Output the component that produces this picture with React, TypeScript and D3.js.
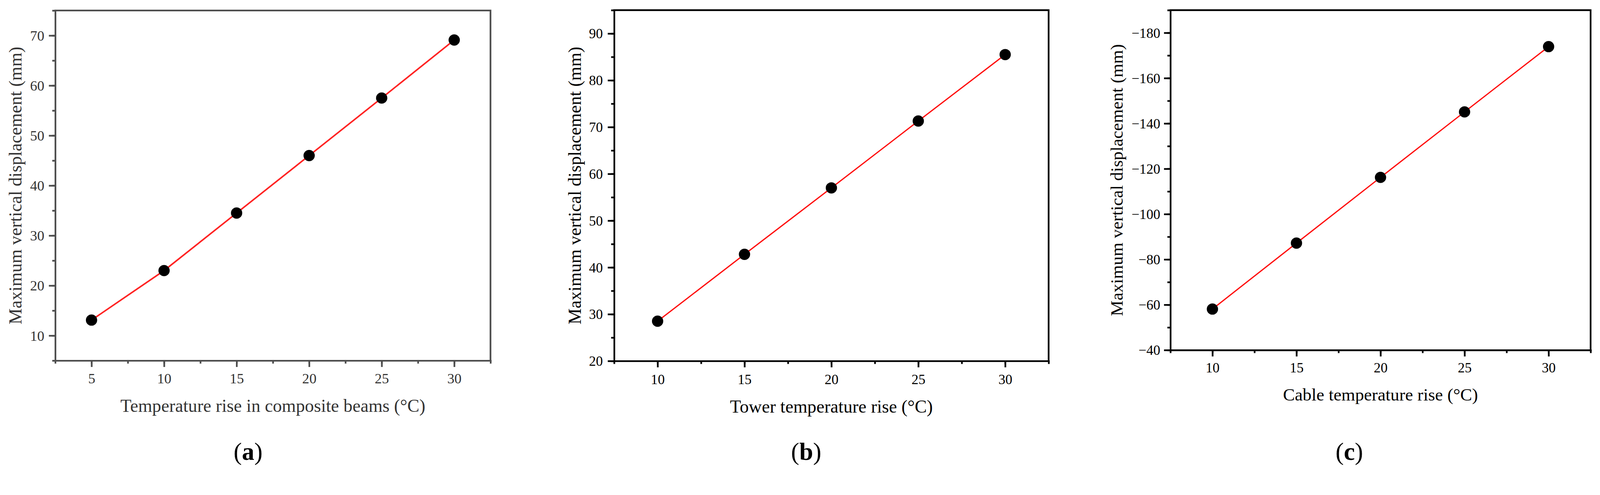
import React, { useRef, useEffect } from "react"
import * as d3 from "d3"

// panel (a): composite beams
const tempA = [5, 10, 15, 20, 25, 30]
const dispA = [13.1, 23.0, 34.5, 46.0, 57.5, 69.1]
const xTicksA = [5, 10, 15, 20, 25, 30]
const yTicksA = [10, 20, 30, 40, 50, 60, 70]

// panel (b): tower
const tempB = [10, 15, 20, 25, 30]
const dispB = [28.5, 42.8, 57.0, 71.3, 85.5]
const xTicksB = [10, 15, 20, 25, 30]
const yTicksB = [20, 30, 40, 50, 60, 70, 80, 90]

// panel (c): cable
const tempC = [10, 15, 20, 25, 30]
const dispC = [-58.1, -87.2, -116.2, -145.1, -173.9]
const xTicksC = [10, 15, 20, 25, 30]
const yTicksC = [-40, -60, -80, -100, -120, -140, -160, -180]

type PanelCfg = {
  left: number
  top: number
  right: number
  bottom: number
  xDomain: [number, number]
  yDomain: [number, number]
  xTicks: number[]
  yTicks: number[]
  xMinorStep: number
  yMinorStep: number
  xs: number[]
  ys: number[]
  xTitle: string
  tag: string
  tagX: number
  axisColor: string
  textColor: string
  lineColor: string
  axisWidth: number
  lineWidth: number
  tickFont: number
  titleFont: number
  xPad: number
  yPad: number
  xTitleOffset: number
  yTitleX: number
}

const W = 4257
const H = 1268
const FONT = "'Liberation Serif', 'Times New Roman', serif"

const panels: PanelCfg[] = [
  {
    left: 147, top: 28, right: 1305, bottom: 960,
    xDomain: [2.5, 32.5], yDomain: [5, 75],
    xTicks: xTicksA, yTicks: yTicksA, xMinorStep: 2.5, yMinorStep: 5,
    xs: tempA, ys: dispA,
    xTitle: "Temperature rise in composite beams (°C)",
    tag: "a", tagX: 660,
    axisColor: "#4d4d4d", textColor: "#333", lineColor: "#f22",
    axisWidth: 4.5, lineWidth: 4, tickFont: 38, titleFont: 48,
    xPad: 17, yPad: 12, xTitleOffset: 136, yTitleX: 57,
  },
  {
    left: 1634, top: 27, right: 2790, bottom: 961,
    xDomain: [7.5, 32.5], yDomain: [20, 95],
    xTicks: xTicksB, yTicks: yTicksB, xMinorStep: 2.5, yMinorStep: 5,
    xs: tempB, ys: dispB,
    xTitle: "Tower temperature rise (°C)",
    tag: "b", tagX: 2145,
    axisColor: "#000", textColor: "#000", lineColor: "#f00",
    axisWidth: 4.5, lineWidth: 3.2, tickFont: 37, titleFont: 48,
    xPad: 18, yPad: 13, xTitleOffset: 138, yTitleX: 1545,
  },
  {
    left: 3114, top: 27, right: 4232, bottom: 932,
    xDomain: [7.5, 32.5], yDomain: [-40, -190],
    xTicks: xTicksC, yTicks: yTicksC, xMinorStep: 2.5, yMinorStep: 10,
    xs: tempC, ys: dispC,
    xTitle: "Cable temperature rise (°C)",
    tag: "c", tagX: 3590,
    axisColor: "#000", textColor: "#000", lineColor: "#f00",
    axisWidth: 4.5, lineWidth: 3.2, tickFont: 37, titleFont: 47,
    xPad: 16, yPad: 10, xTitleOffset: 134, yTitleX: 2987,
  },
]

const minorValues = (d: [number, number], step: number) => {
  const lo = Math.min(d[0], d[1])
  const hi = Math.max(d[0], d[1])
  return d3.range(lo, hi + step / 2, step)
}

const Figure: React.FC = () => {
  const svgRef = useRef<SVGSVGElement | null>(null)

  useEffect(() => {
    if (!svgRef.current) return
    const svg = d3.select(svgRef.current)
    svg.selectAll("*").remove()

    panels.forEach((p) => {
      const x = d3.scaleLinear().domain(p.xDomain).range([p.left, p.right])
      const y = d3.scaleLinear().domain(p.yDomain).range([p.bottom, p.top])
      const g = svg.append("g").attr("font-family", FONT)

      // frame (top and right sides)
      g.append("path")
        .attr("d", `M${p.left},${p.top}H${p.right}V${p.bottom}`)
        .attr("fill", "none")
        .attr("stroke", p.axisColor)
        .attr("stroke-width", p.axisWidth)
        .attr("stroke-linecap", "square")

      // minor ticks
      g.append("g")
        .attr("transform", `translate(0,${p.bottom})`)
        .call(d3.axisBottom(x).tickValues(minorValues(p.xDomain, p.xMinorStep)).tickSize(8).tickSizeOuter(0).tickFormat(() => ""))
        .call((a) => a.select(".domain").remove())
        .attr("color", p.axisColor)
        .selectAll("line").attr("stroke-width", p.axisWidth)
      g.append("g")
        .attr("transform", `translate(${p.left},0)`)
        .call(d3.axisLeft(y).tickValues(minorValues(p.yDomain, p.yMinorStep)).tickSize(8).tickSizeOuter(0).tickFormat(() => ""))
        .call((a) => a.select(".domain").remove())
        .attr("color", p.axisColor)
        .selectAll("line").attr("stroke-width", p.axisWidth)

      // major axes
      const xa = g.append("g")
        .attr("transform", `translate(0,${p.bottom})`)
        .call(d3.axisBottom(x).tickValues(p.xTicks).tickSize(17).tickSizeOuter(0).tickPadding(p.xPad).tickFormat(d3.format("d")))
        .attr("color", p.axisColor)
        .attr("font-size", p.tickFont)
        .attr("font-family", FONT)
      xa.selectAll("line, path").attr("stroke-width", p.axisWidth)
      xa.select(".domain").attr("stroke-linecap", "square")
      xa.selectAll("text").attr("fill", p.textColor)

      const ya = g.append("g")
        .attr("transform", `translate(${p.left},0)`)
        .call(d3.axisLeft(y).tickValues(p.yTicks).tickSize(17).tickSizeOuter(0).tickPadding(p.yPad).tickFormat(d3.format("d")))
        .attr("color", p.axisColor)
        .attr("font-size", p.tickFont)
        .attr("font-family", FONT)
      ya.selectAll("line, path").attr("stroke-width", p.axisWidth)
      ya.select(".domain").attr("stroke-linecap", "square")
      ya.selectAll("text").attr("fill", p.textColor).attr("dy", "0.34em")

      // data line + markers
      const pts = p.xs.map((v, i) => [v, p.ys[i]] as [number, number])
      g.append("path")
        .datum(pts)
        .attr("d", d3.line<[number, number]>().x((d) => x(d[0])).y((d) => y(d[1])))
        .attr("fill", "none")
        .attr("stroke", p.lineColor)
        .attr("stroke-width", p.lineWidth)
      g.selectAll(".pt")
        .data(pts)
        .enter()
        .append("circle")
        .attr("cx", (d) => x(d[0]))
        .attr("cy", (d) => y(d[1]))
        .attr("r", 15)
        .attr("fill", "#000")

      // titles
      g.append("text")
        .attr("x", (p.left + p.right) / 2)
        .attr("y", p.bottom + p.xTitleOffset)
        .attr("text-anchor", "middle")
        .attr("font-size", p.titleFont)
        .attr("fill", p.textColor)
        .text(p.xTitle)
      g.append("text")
        .attr("transform", `translate(${p.yTitleX},${(p.top + p.bottom) / 2}) rotate(-90)`)
        .attr("text-anchor", "middle")
        .attr("font-size", p.titleFont)
        .attr("fill", p.textColor)
        .text("Maximum vertical displacement (mm)")

      // panel tag
      const t = g.append("text")
        .attr("x", p.tagX)
        .attr("y", 1224)
        .attr("text-anchor", "middle")
        .attr("font-size", 66)
        .attr("fill", "#000")
      t.append("tspan").text("(")
      t.append("tspan").attr("font-weight", "bold").text(p.tag)
      t.append("tspan").text(")")
    })
  }, [])

  // viewBox keeps the whole figure inside whatever viewport the browser gives
  return (
    <svg
      ref={svgRef}
      viewBox={`0 0 ${W} ${H}`}
      preserveAspectRatio="xMinYMin meet"
      style={{ position: "fixed", left: 0, top: 0, width: "100vw", height: "100vh", display: "block", background: "#fff" }}
    ></svg>
  )
}

export default function App() {
  return <Figure />
}
